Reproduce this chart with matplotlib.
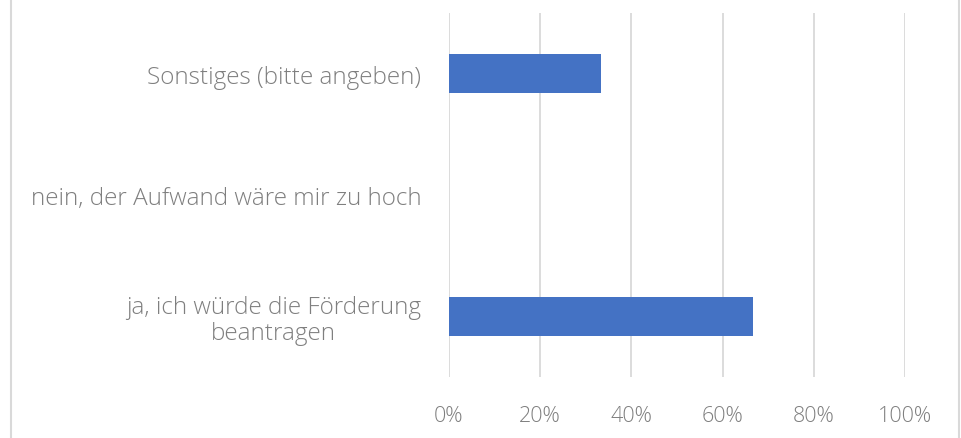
import matplotlib
matplotlib.use("Agg")
import matplotlib.pyplot as plt
from matplotlib.lines import Line2D
from matplotlib.ticker import FuncFormatter

# Survey answers, bottom to top
categories = [
    "ja, ich würde die Förderung\nbeantragen",
    "nein, der Aufwand wäre mir zu hoch",
    "Sonstiges (bitte angeben)",
]
shares = [0.6667, 0.0, 0.3333]
ticks = [0.0, 0.2, 0.4, 0.6, 0.8, 1.0]

BAR_COLOR = "#4472C4"
GRID_COLOR = "#D9D9D9"
TEXT_COLOR = "#7F7F7F"

plt.rcParams["font.family"] = ["Open Sans", "DejaVu Sans"]

fig = plt.figure(figsize=(9.62, 4.39), dpi=100)
ax = fig.add_axes([449 / 962, 1 - 378 / 439, 456 / 962, 364 / 439])

ax.barh(range(len(categories)), shares, height=0.32, color=BAR_COLOR, zorder=3)

ax.set_xlim(0, 1)
ax.set_ylim(-0.5, len(categories) - 0.5)
ax.set_xticks(ticks)
ax.xaxis.set_major_formatter(FuncFormatter(lambda v, _: f"{v:.0%}"))
ax.set_yticks(range(len(categories)))
ax.set_yticklabels(categories, multialignment="center", linespacing=1.12)

ax.grid(axis="x", color=GRID_COLOR, linewidth=1.3, zorder=0)
for s in ax.spines.values():
    s.set_visible(False)
ax.tick_params(axis="both", length=0, colors=TEXT_COLOR)
ax.tick_params(axis="y", pad=20, labelsize=17.5)
ax.tick_params(axis="x", pad=20, labelsize=15.5)
for lbl in ax.get_xticklabels() + ax.get_yticklabels():
    lbl.set_fontweight("light")

# light frame edges on the left and right of the picture
for xf in (10.5 / 962, 959.5 / 962):
    fig.add_artist(Line2D([xf, xf], [0, 1], color=GRID_COLOR, linewidth=1.5,
                          transform=fig.transFigure))

fig.savefig("out.png", dpi=100, facecolor="white")
